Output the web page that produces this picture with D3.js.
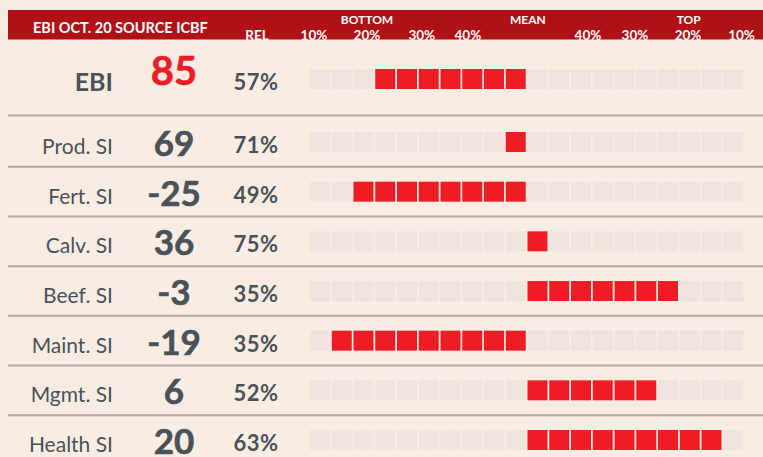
<!DOCTYPE html>
<html>
<head>
<meta charset="utf-8">
<script src="https://cdn.jsdelivr.net/npm/d3@7"></script>
<style>
  body { margin: 0; background: #f9ede3; }
  svg { display: block; font-family: Lato, "Open Sans", sans-serif; }
</style>
</head>
<body>
<div id="chart"></div>
<script>
const traits = ["EBI", "Prod. SI", "Fert. SI", "Calv. SI", "Beef. SI", "Maint. SI", "Mgmt. SI", "Health SI"];
const values = ["85", "69", "-25", "36", "-3", "-19", "6", "20"];
const reliability = ["57%", "71%", "49%", "75%", "35%", "35%", "52%", "63%"];
// squares filled out from the mean: negative = bottom side, positive = top side
const filled = [-7, -1, -8, 1, 7, -9, 6, 9];

const leftTicks = ["10%", "20%", "30%", "40%"];
const leftTickPos = [0.18, 2.62, 5.14, 7.26];
const rightTicks = ["40%", "30%", "20%", "10%"];
const rightTickPos = [12.78, 14.94, 17.38, 19.84];

const width = 763;
const height = 457;
const nSquares = 20;
const red = "#ee1c25";
const dark = "#4a5259";

const svg = d3.select("#chart").append("svg")
  .attr("width", width)
  .attr("height", height);

svg.append("rect")
  .attr("width", width)
  .attr("height", height)
  .attr("fill", "#f9ede3");

const x = d3.scaleLinear().domain([0, nSquares]).range([310, 745]);
const sq = x(1) - x(0) - 1.75;

// row centres: the EBI row is taller than the rest
const yRow = d3.scaleLinear().domain([1, 7]).range([142, 440]);
const rowY = i => i === 0 ? 79 : yRow(i);

// header bar
svg.append("rect")
  .attr("x", 8)
  .attr("y", 10)
  .attr("width", width - 8)
  .attr("height", 29.5)
  .attr("fill", "#b01116");

const header = svg.append("g")
  .attr("fill", "#fff")
  .style("font-weight", "bold");

header.append("text")
  .attr("x", 33)
  .attr("y", 32.5)
  .style("font-size", "14.5px")
  .text("EBI OCT. 20 SOURCE ICBF");

header.append("text")
  .attr("x", 257)
  .attr("y", 40)
  .attr("text-anchor", "middle")
  .style("font-size", "13.5px")
  .text("REL");

[["BOTTOM", 2.62], ["MEAN", 10.02], ["TOP", 17.41]].forEach(([t, p]) => {
  header.append("text")
    .attr("x", x(p))
    .attr("y", 24)
    .attr("text-anchor", "middle")
    .style("font-size", "12px")
    .text(t);
});

header.selectAll(".tick")
  .data(leftTicks.map((t, i) => [t, leftTickPos[i]])
    .concat(rightTicks.map((t, i) => [t, rightTickPos[i]])))
  .join("text")
  .attr("x", d => x(d[1]))
  .attr("y", 40)
  .attr("text-anchor", "middle")
  .style("font-size", "13.5px")
  .text(d => d[0]);

// separators
svg.selectAll(".sep")
  .data(d3.range(1, traits.length))
  .join("line")
  .attr("x1", 8)
  .attr("x2", width)
  .attr("y1", i => (rowY(i - 1) + rowY(i)) / 2 + (i === 1 ? 5 : 0))
  .attr("y2", i => (rowY(i - 1) + rowY(i)) / 2 + (i === 1 ? 5 : 0))
  .attr("stroke", "#b1a9a5")
  .attr("stroke-width", 2);

const rows = svg.selectAll(".row")
  .data(traits)
  .join("g")
  .attr("transform", (d, i) => `translate(0,${rowY(i)})`);

rows.append("text")
  .attr("x", 113)
  .attr("y", 12)
  .attr("text-anchor", "end")
  .attr("fill", dark)
  .style("font-size", (d, i) => i === 0 ? "25px" : "21px")
  .style("font-weight", (d, i) => i === 0 ? "bold" : "normal")
  .text(d => d);

rows.append("text")
  .attr("x", 174)
  .attr("y", (d, i) => i === 0 ? 6 : 14)
  .attr("text-anchor", "middle")
  .attr("fill", (d, i) => i === 0 ? red : dark)
  .style("font-size", (d, i) => i === 0 ? "40px" : "35px")
  .style("font-weight", "bold")
  .style("stroke", (d, i) => i === 0 ? red : dark)
  .style("stroke-width", "0.6px")
  .text((d, i) => values[i]);

rows.append("text")
  .attr("x", 256)
  .attr("y", 11)
  .attr("text-anchor", "middle")
  .attr("fill", dark)
  .style("font-size", "22px")
  .style("font-weight", "bold")
  .style("letter-spacing", "0.5px")
  .text((d, i) => reliability[i]);

rows.selectAll("rect")
  .data((d, i) => d3.range(nSquares).map(k => {
    const n = filled[i];
    const on = n < 0 ? (k < 10 && k >= 10 + n) : (k >= 10 && k < 10 + n);
    return { k, on };
  }))
  .join("rect")
  .attr("x", d => x(d.k))
  .attr("y", -10)
  .attr("width", sq)
  .attr("height", 20)
  .attr("fill", d => d.on ? red : "#efe4df");
</script>
</body>
</html>
